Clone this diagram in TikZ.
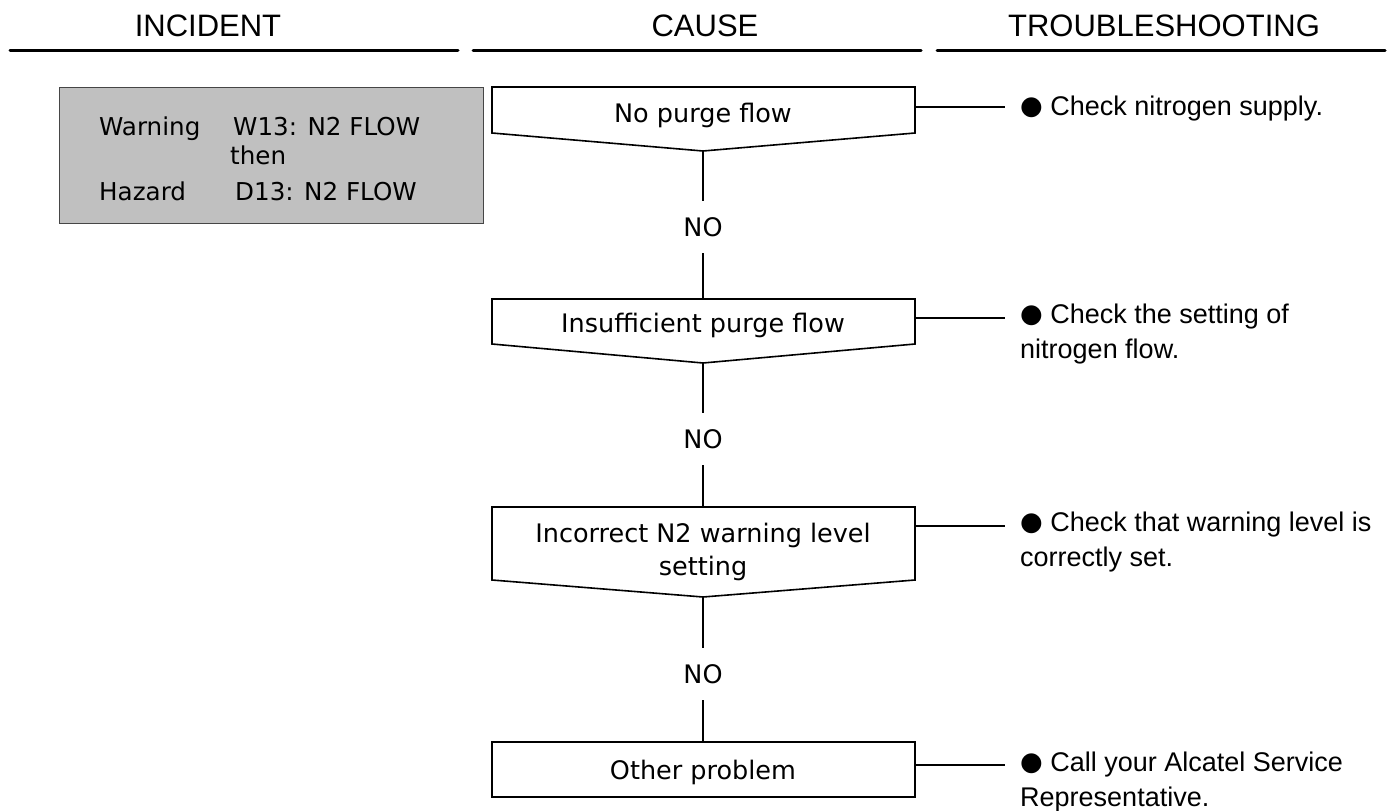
\documentclass[tikz,border=0pt]{standalone}
\usepackage{fontspec}
\setmainfont{DejaVu Sans}
\newfontfamily\lib{Liberation Sans}
\newfontfamily\dvs{DejaVu Sans}
\definecolor{incfill}{RGB}{192,192,192}
\definecolor{incdraw}{RGB}{70,70,70}
\newcommand{\blt}{\raisebox{1pt}{\dvs\fontsize{26}{26}\selectfont ●}}
\begin{document}
\begin{tikzpicture}[x=1pt,y=-1pt,
  hdr/.style={font=\lib\fontsize{31}{31}\selectfont, anchor=base, inner sep=0},
  hline/.style={line width=3pt, line cap=round},
  boxline/.style={line width=1.6pt, line join=miter},
  conn/.style={line width=1.6pt},
  btext/.style={font=\dvs\fontsize{25.5}{33}\selectfont, anchor=base, inner sep=0, align=center},
  itext/.style={font=\dvs\fontsize{24.6}{24.6}\selectfont, anchor=base west, inner sep=0},
  ttext/.style={font=\lib\fontsize{27}{35}\selectfont, anchor=base west, inner sep=0, align=left},
  nolabel/.style={font=\dvs\fontsize{25.5}{25.5}\selectfont, inner sep=0, minimum height=52pt}
]
\useasboundingbox (0,0) rectangle (1395,811);

% headers
\node[hdr] (hinc) at (208,36) {INCIDENT};
\node[hdr] (hcau) at (705,36) {CAUSE};
\node[hdr] (htro) at (1164,36) {TROUBLESHOOTING};
\coordinate (l1a) at (10,50); \coordinate (l1b) at (458,50);
\coordinate (l2a) at (473,50); \coordinate (l2b) at (921,50);
\coordinate (l3a) at (937,50); \coordinate (l3b) at (1385,50);
\draw[hline] (l1a) -- (l1b);
\draw[hline] (l2a) -- (l2b);
\draw[hline] (l3a) -- (l3b);

% incident box
\node[draw=incdraw, fill=incfill, line width=1pt, minimum width=424pt, minimum height=136pt, inner sep=0] (inc) at (271,155) {};
\node[itext] (iw) at (99,135) {Warning};
\node[itext] (iw2) at (233,135) {W13: N2 FLOW};
\node[itext] (it) at (230,164) {then};
\node[itext] (ih) at (99,200) {Hazard};
\node[itext] (ih2) at (235,200) {D13: N2 FLOW};

% cause boxes
\coordinate (b1nw) at (492,87); \coordinate (b1ne) at (915,87);
\coordinate (b1se) at (915,133); \coordinate (b1sw) at (492,133);
\coordinate (b1tip) at (703,151);
\draw[boxline] (b1nw) -- (b1ne) -- (b1se) -- (b1tip) -- (b1sw) -- cycle;
\node[btext] (c1) at (703,122) {No purge flow};

\coordinate (b2nw) at (492,299); \coordinate (b2ne) at (915,299);
\coordinate (b2se) at (915,344); \coordinate (b2sw) at (492,344);
\coordinate (b2tip) at (703,363); \coordinate (b2top) at (703,299);
\draw[boxline] (b2nw) -- (b2ne) -- (b2se) -- (b2tip) -- (b2sw) -- cycle;
\node[btext] (c2) at (703,332) {Insufficient purge flow};

\coordinate (b3nw) at (492,507); \coordinate (b3ne) at (915,507);
\coordinate (b3se) at (915,580); \coordinate (b3sw) at (492,580);
\coordinate (b3tip) at (703,597); \coordinate (b3top) at (703,507);
\draw[boxline] (b3nw) -- (b3ne) -- (b3se) -- (b3tip) -- (b3sw) -- cycle;
\node[btext] (c3) at (703,575) {Incorrect N2 warning level\\setting};

\coordinate (b4nw) at (492,742); \coordinate (b4se) at (915,797);
\coordinate (b4top) at (703,742);
\draw[boxline] (b4nw) rectangle (b4se);
\node[btext] (c4) at (703,779) {Other problem};

% NO labels and vertical connectors
\node[nolabel] (no1) at (703,227) {NO};
\node[nolabel] (no2) at (703,439) {NO};
\node[nolabel] (no3) at (703,674) {NO};
\draw[conn] (b1tip) -- (no1.north);
\draw[conn] (no1.south) -- (b2top);
\draw[conn] (b2tip) -- (no2.north);
\draw[conn] (no2.south) -- (b3top);
\draw[conn] (b3tip) -- (no3.north);
\draw[conn] (no3.south) -- (b4top);

% troubleshooting texts
\node[ttext] (t1) at (1020,115) {\blt\ Check nitrogen supply.};
\node[ttext] (t2) at (1020,358) {\blt\ Check the setting of\\nitrogen flow.};
\node[ttext] (t3) at (1020,566) {\blt\ Check that warning level is\\correctly set.};
\node[ttext] (t4) at (1020,806) {\blt\ Call your Alcatel Service\\Representative.};

% horizontal connectors
\coordinate (r1) at (915,107); \coordinate (e1) at (1005,107);
\coordinate (r2) at (915,318); \coordinate (e2) at (1005,318);
\coordinate (r3) at (915,526); \coordinate (e3) at (1005,526);
\coordinate (r4) at (915,765); \coordinate (e4) at (1005,765);
\draw[conn] (r1) -- (e1);
\draw[conn] (r2) -- (e2);
\draw[conn] (r3) -- (e3);
\draw[conn] (r4) -- (e4);
\end{tikzpicture}
\end{document}
